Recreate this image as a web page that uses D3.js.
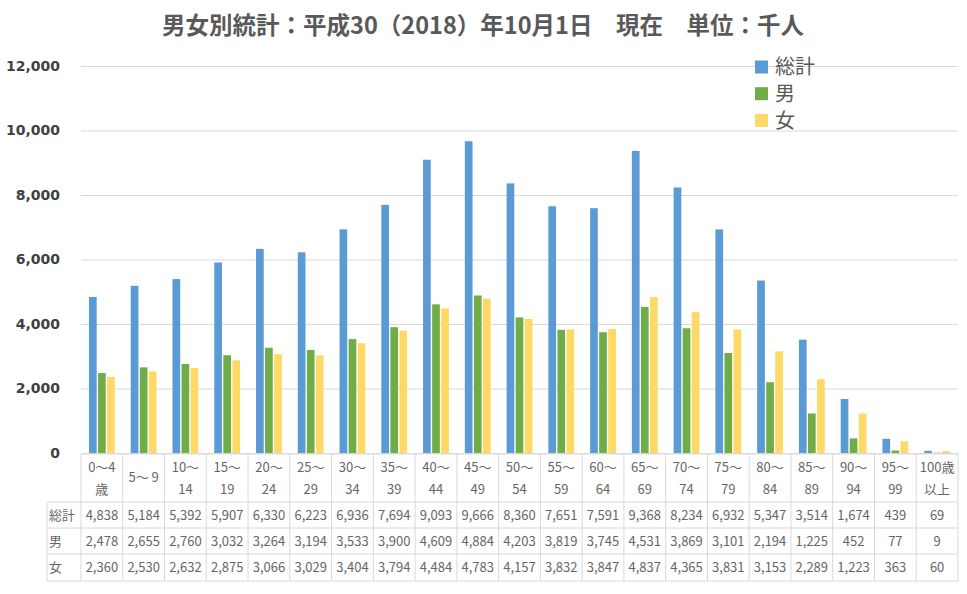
<!DOCTYPE html>
<html>
<head>
<meta charset="utf-8">
<script src="https://cdn.jsdelivr.net/npm/d3@7"></script>
<style>
  body { margin: 0; background: #fff; }
  svg { display: block; }
</style>
</head>
<body>
<svg id="chart" width="967" height="594"></svg>
<script>
"use strict";

// age groups (header labels, split on line breaks)
const categories = ["0～4\n歳", "5～ 9", "10～\n14", "15～\n19", "20～\n24", "25～\n29", "30～\n34",
  "35～\n39", "40～\n44", "45～\n49", "50～\n54", "55～\n59", "60～\n64", "65～\n69", "70～\n74",
  "75～\n79", "80～\n84", "85～\n89", "90～\n94", "95～\n99", "100歳\n以上"];

const seriesNames = ["総計", "男", "女"];

const totalValues = [4838, 5184, 5392, 5907, 6330, 6223, 6936, 7694, 9093, 9666, 8360,
  7651, 7591, 9368, 8234, 6932, 5347, 3514, 1674, 439, 69];
const maleValues = [2478, 2655, 2760, 3032, 3264, 3194, 3533, 3900, 4609, 4884, 4203,
  3819, 3745, 4531, 3869, 3101, 2194, 1225, 452, 77, 9];
const femaleValues = [2360, 2530, 2632, 2875, 3066, 3029, 3404, 3794, 4484, 4783, 4157,
  3832, 3847, 4837, 4365, 3831, 3153, 2289, 1223, 363, 60];

const yTicks = [0, 2000, 4000, 6000, 8000, 10000, 12000];

const colors = ["#5b9bd5", "#70ad47", "#ffd966"];

const svg = d3.select("#chart");
const W = 967;

const plotLeft = 81, plotRight = 958, plotTop = 66, plotBottom = 453;

const x = d3.scaleBand().domain(categories).range([plotLeft, plotRight]).paddingInner(0).paddingOuter(0);
const x1 = d3.scaleBand().domain(seriesNames).range([0, x.bandwidth()])
  .paddingInner(0.15).paddingOuter(0.88);
const y = d3.scaleLinear().domain([0, 12000]).range([plotBottom, plotTop]);

const allSeries = [totalValues, maleValues, femaleValues];

// title
svg.append("text")
  .attr("x", 483)
  .attr("y", 34)
  .attr("text-anchor", "middle")
  .style("font-family", "'Noto Sans CJK JP', sans-serif")
  .style("font-weight", "bold")
  .style("font-size", "23.5px")
  .style("fill", "#595959")
  .text("男女別統計：平成30（2018）年10月1日　現在　単位：千人");

// gridlines
svg.append("g")
  .attr("transform", `translate(${plotLeft},0)`)
  .call(d3.axisLeft(y).tickValues(yTicks).tickSize(-(plotRight - plotLeft)).tickFormat(""))
  .call(g => g.select(".domain").remove())
  .call(g => g.selectAll("line").attr("stroke", "#d9d9d9"));

// y axis labels
svg.append("g")
  .attr("transform", `translate(60,0)`)
  .call(d3.axisLeft(y).tickValues(yTicks).tickSize(0).tickPadding(0).tickFormat(d3.format(",")))
  .call(g => g.select(".domain").remove())
  .call(g => g.selectAll("text")
    .style("font-family", "'DejaVu Sans', sans-serif")
    .style("font-weight", "bold")
    .style("font-size", "14px")
    .style("fill", "#404040"));

// bars
const groups = svg.append("g")
  .selectAll("g")
  .data(categories)
  .join("g")
  .attr("transform", d => `translate(${x(d)},0)`);

groups.selectAll("rect")
  .data((d, i) => seriesNames.map((s, k) => ({ s, v: allSeries[k][i], k })))
  .join("rect")
  .attr("x", d => x1(d.s))
  .attr("width", x1.bandwidth())
  .attr("y", d => y(d.v))
  .attr("height", d => y(0) - y(d.v))
  .attr("fill", d => colors[d.k]);

// legend
const legend = svg.append("g");
seriesNames.forEach((s, k) => {
  const ly = 67 + k * 26.7;
  legend.append("rect")
    .attr("x", 755).attr("y", ly - 6.5)
    .attr("width", 13).attr("height", 13)
    .attr("fill", colors[k]);
  legend.append("text")
    .attr("x", 775).attr("y", ly)
    .attr("dy", "0.36em")
    .style("font-family", "'Noto Sans CJK JP', sans-serif")
    .style("font-size", "20px")
    .style("fill", "#595959")
    .text(s);
});

// data table
const table = svg.append("g");
const headTop = 454, headBottom = 502;
const rowLines = [502, 528, 554, 581];
const labelLeft = 47;
const lineColor = "#d9d9d9";
const tableFont = "'Noto Sans CJK JP', sans-serif";

// vertical lines
const vx = categories.map(c => x(c)).concat([plotRight]);
vx.forEach(vxi => {
  table.append("line")
    .attr("x1", vxi).attr("x2", vxi)
    .attr("y1", headTop).attr("y2", rowLines[3])
    .attr("stroke", lineColor);
});
table.append("line")
  .attr("x1", labelLeft).attr("x2", labelLeft)
  .attr("y1", headBottom).attr("y2", rowLines[3])
  .attr("stroke", lineColor);

// horizontal lines
table.append("line")
  .attr("x1", plotLeft).attr("x2", plotRight)
  .attr("y1", headTop).attr("y2", headTop)
  .attr("stroke", lineColor);
rowLines.forEach(ry => {
  table.append("line")
    .attr("x1", labelLeft).attr("x2", plotRight)
    .attr("y1", ry).attr("y2", ry)
    .attr("stroke", lineColor);
});

// header labels
categories.forEach(c => {
  const lines = c.split("\n");
  const cx = x(c) + x.bandwidth() / 2;
  const t = table.append("text")
    .attr("text-anchor", "middle")
    .style("font-family", tableFont)
    .style("font-size", "13px")
    .style("fill", "#666");
  if (lines.length === 1) {
    t.append("tspan").attr("x", cx).attr("y", 477).attr("dy", "0.36em").text(lines[0]);
  } else {
    lines.forEach((l, j) => {
      t.append("tspan").attr("x", cx).attr("y", 467 + j * 22).attr("dy", "0.36em").text(l);
    });
  }
});

// data rows
const fmt = d3.format(",");
seriesNames.forEach((s, k) => {
  const cy = (rowLines[k] + rowLines[k + 1]) / 2;
  table.append("text")
    .attr("x", 49).attr("y", cy).attr("dy", "0.36em")
    .style("font-family", tableFont)
    .style("font-size", "13px")
    .style("fill", "#666")
    .text(s);
  categories.forEach((c, i) => {
    table.append("text")
      .attr("x", x(c) + x.bandwidth() / 2)
      .attr("y", cy).attr("dy", "0.36em")
      .attr("text-anchor", "middle")
      .style("font-family", tableFont)
      .style("font-size", "13px")
      .style("fill", "#666")
      .text(fmt(allSeries[k][i]));
  });
});
</script>
</body>
</html>
